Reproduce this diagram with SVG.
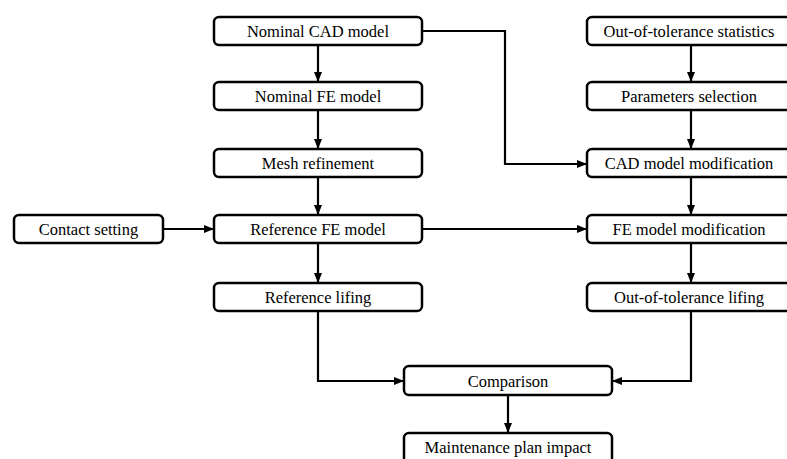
<svg xmlns="http://www.w3.org/2000/svg" width="787" height="459" viewBox="0 0 787 459">
<style>
.box{fill:#fff;stroke:#000;stroke-width:2.5}
.t{font-family:"Liberation Serif","Times New Roman",serif;font-size:16.5px;fill:#000;text-anchor:middle}
.c{fill:none;stroke:#000;stroke-width:2.2;marker-end:url(#ah)}
</style>
<defs>
<marker id="ah" markerUnits="userSpaceOnUse" markerWidth="10" markerHeight="10" viewBox="0 0 10 10" refX="10" refY="5" orient="auto">
<path d="M0,1 L10,5 L0,9 Z" fill="#000"/>
</marker>
</defs>
<rect width="787" height="459" fill="#fff"/>
<g id="connectors">
<path class="c" d="M318,45 V82"/>
<path class="c" d="M318,110 V149"/>
<path class="c" d="M318,177 V215"/>
<path class="c" d="M318,243 V283"/>
<path class="c" d="M691,45 V82"/>
<path class="c" d="M691,110 V149"/>
<path class="c" d="M691,177 V215"/>
<path class="c" d="M691,243 V283"/>
<path class="c" d="M422,31 H505 V164 H587"/>
<path class="c" d="M163,229 H214"/>
<path class="c" d="M422,229 H587"/>
<path class="c" d="M318,311 V381 H404"/>
<path class="c" d="M691,311 V381 H612"/>
<path class="c" d="M508,395 V433"/>
</g>
<g id="nominal-cad"><rect class="box" x="214" y="17" width="208" height="28" rx="5"/><text class="t" x="318" y="37">Nominal CAD model</text></g>
<g id="nominal-fe"><rect class="box" x="214" y="82" width="208" height="28" rx="5"/><text class="t" x="318" y="102">Nominal FE model</text></g>
<g id="mesh-refinement"><rect class="box" x="214" y="149" width="208" height="28" rx="5"/><text class="t" x="318" y="169">Mesh refinement</text></g>
<g id="reference-fe"><rect class="box" x="214" y="215" width="208" height="28" rx="5"/><text class="t" x="318" y="235">Reference FE model</text></g>
<g id="reference-lifing"><rect class="box" x="214" y="283" width="208" height="28" rx="5"/><text class="t" x="318" y="303">Reference lifing</text></g>
<g id="contact-setting"><rect class="box" x="14" y="215" width="149" height="28" rx="5"/><text class="t" x="88.5" y="235">Contact setting</text></g>
<g id="oot-statistics"><rect class="box" x="587" y="17" width="208" height="28" rx="5"/><text class="t" x="689" y="37">Out-of-tolerance statistics</text></g>
<g id="parameters-selection"><rect class="box" x="587" y="82" width="208" height="28" rx="5"/><text class="t" x="689" y="102">Parameters selection</text></g>
<g id="cad-modification"><rect class="box" x="587" y="149" width="208" height="28" rx="5"/><text class="t" x="689" y="169">CAD model modification</text></g>
<g id="fe-modification"><rect class="box" x="587" y="215" width="208" height="28" rx="5"/><text class="t" x="689" y="235">FE model modification</text></g>
<g id="oot-lifing"><rect class="box" x="587" y="283" width="208" height="28" rx="5"/><text class="t" x="689" y="303">Out-of-tolerance lifing</text></g>
<g id="comparison"><rect class="box" x="404" y="366" width="208" height="29" rx="5"/><text class="t" x="508" y="386.5">Comparison</text></g>
<g id="maintenance"><rect class="box" x="404" y="433" width="208" height="30" rx="5"/><text class="t" x="508" y="453">Maintenance plan impact</text></g>
</svg>
